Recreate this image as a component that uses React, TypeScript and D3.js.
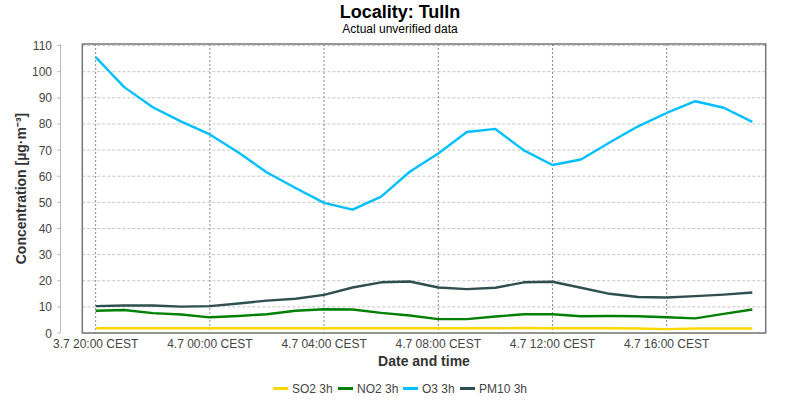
import React from "react";
import * as d3 from "d3";

const hours: number[] = Array.from({ length: 24 }, (_, i) => i);
const so2: number[] = [1.8, 1.8, 1.8, 1.8, 1.8, 1.8, 1.8, 1.8, 1.8, 1.8, 1.8, 1.8, 1.8, 1.8, 1.8, 1.9, 1.8, 1.8, 1.8, 1.7, 1.5, 1.7, 1.7, 1.7];
const no2: number[] = [8.5, 8.8, 7.6, 7.1, 6.0, 6.5, 7.2, 8.5, 9.1, 9.0, 7.7, 6.7, 5.3, 5.3, 6.3, 7.2, 7.2, 6.4, 6.5, 6.4, 6.0, 5.6, 7.3, 9.0];
const o3: number[] = [105.6, 94.1, 86.4, 80.9, 76.0, 69.1, 61.4, 55.5, 49.8, 47.2, 52.2, 61.7, 68.7, 76.9, 78.1, 69.9, 64.3, 66.4, 72.9, 79.1, 84.2, 88.7, 86.2, 80.8];
const pm10: number[] = [10.3, 10.5, 10.5, 10.1, 10.3, 11.3, 12.4, 13.1, 14.6, 17.4, 19.4, 19.7, 17.4, 16.8, 17.3, 19.4, 19.6, 17.3, 15.0, 13.8, 13.6, 14.1, 14.7, 15.5];
const yTicks: number[] = [0, 10, 20, 30, 40, 50, 60, 70, 80, 90, 100, 110];

const seriesNames = ["SO2 3h", "NO2 3h", "O3 3h", "PM10 3h"];
const seriesColors = ["#FFD700", "#008000", "#00BFFF", "#2F4F4F"];
const seriesData = [so2, no2, o3, pm10];

const start = new Date(2023, 6, 3, 20, 0, 0);
const times = hours.map((h) => d3.timeHour.offset(start, h));

export default function App() {
  const W = 800, H = 400;
  const left = 82.3, right = 765.7, top = 44, bottom = 333;
  const pad = 28.1 * 60 * 1000;
  const x = d3
    .scaleTime()
    .domain([new Date(+times[0] - pad), new Date(+times[times.length - 1] + pad)])
    .range([left, right]);
  const y = d3.scaleLinear().domain([0, 110.6]).range([bottom, top]);
  const xTicks = x.ticks(d3.timeHour.every(4)!).filter((t) => t >= times[0] && t <= times[times.length - 1]);
  const fmt = d3.timeFormat("%-d.%-m %H:%M");
  const line = (vals: number[]) =>
    d3
      .line<number>()
      .x((_, i) => x(times[i]))
      .y((v) => y(v))(vals) || "";
  const font = "'Liberation Sans', Arial, sans-serif";
  const legendX = [273, 338, 403, 460];

  return (
    <svg width={W} height={H} style={{ position: "absolute", left: 0, top: 0, fontFamily: font }}>
      <rect x={0} y={0} width={W} height={H} fill="#fff" />
      <text x={400} y={17.5} textAnchor="middle" fontSize={18} fontWeight="bold" fill="#000">
        Locality: Tulln
      </text>
      <text x={400} y={33} textAnchor="middle" fontSize={12} fill="#000">
        Actual unverified data
      </text>
      {/* horizontal grid */}
      {yTicks.map((t) => (
        <line key={"hg" + t} x1={left} x2={right} y1={y(t)} y2={y(t)} stroke="#c4c4c4" strokeWidth={1} strokeDasharray="3,2" />
      ))}
      {/* vertical grid */}
      {xTicks.map((t, i) => (
        <line key={"vg" + i} x1={x(t)} x2={x(t)} y1={top} y2={bottom} stroke="#888" strokeWidth={1} strokeDasharray="2,2" />
      ))}
      {/* y axis */}
      <line x1={60.5} x2={60.5} y1={top} y2={bottom} stroke="#bbb" strokeWidth={1} />
      {yTicks.map((t) => (
        <g key={"yt" + t}>
          <line x1={57} x2={60.5} y1={y(t)} y2={y(t)} stroke="#bbb" />
          <text x={52} y={y(t) + 4.5} textAnchor="end" fontSize={12} fill="#444">
            {t}
          </text>
        </g>
      ))}
      <text
        transform={`translate(26,${(top + bottom) / 2}) rotate(-90)`}
        textAnchor="middle"
        fontSize={14}
        fontWeight="bold"
        fill="#333"
      >
        Concentration [µg·m⁻³]
      </text>
      {xTicks.map((t, i) => (
        <text key={"xt" + i} x={x(t)} y={348} textAnchor="middle" fontSize={12} fill="#444">
          {fmt(t) + " CEST"}
        </text>
      ))}
      <text x={(left + right) / 2} y={366} textAnchor="middle" fontSize={14} fontWeight="bold" fill="#333">
        Date and time
      </text>
      {/* series */}
      {seriesData.map((vals, i) => (
        <path key={"s" + i} d={line(vals)} fill="none" stroke={seriesColors[i]} strokeWidth={2.4} strokeLinejoin="round" />
      ))}
      {/* frame */}
      <rect x={left} y={top} width={right - left} height={bottom - top} fill="none" stroke="#777" strokeWidth={1.5} />
      {/* legend */}
      {seriesNames.map((n, i) => (
        <g key={"lg" + i}>
          <line x1={legendX[i]} x2={legendX[i] + 15} y1={388.5} y2={388.5} stroke={seriesColors[i]} strokeWidth={3} />
          <text x={legendX[i] + 19} y={393} fontSize={12} fill="#444">
            {n}
          </text>
        </g>
      ))}
    </svg>
  );
}
